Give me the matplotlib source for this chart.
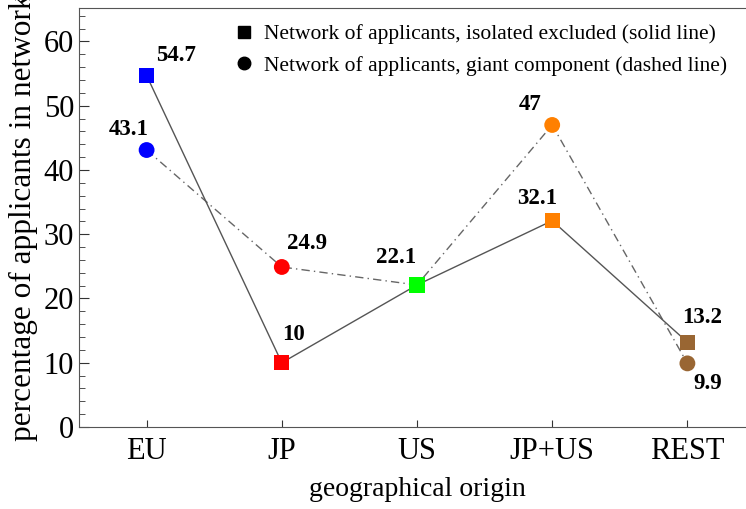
import matplotlib.pyplot as plt
from matplotlib.lines import Line2D

origins = ['EU', 'JP', 'US', 'JP+US', 'REST']
isolated_excl = [54.7, 10, 22.1, 32.1, 13.2]
giant_comp = [43.1, 24.9, 22.1, 47, 9.9]
colors = ['#0000ff', '#ff0000', '#00ff00', '#ff8000', '#996633']

# label offsets in pixels (dx, dy)
off_sq = [(29, 20), (12, 28), (-21, 27), (-15, 22), (15, 25)]
off_ci = [(-18, 21), (25, 23), None, (-22, 20), (20, -20)]

plt.rcParams['font.family'] = ['Liberation Serif', 'DejaVu Serif']

fig = plt.figure(figsize=(7.46, 5.09), dpi=100)
ax = fig.add_axes([79/746, 82/509, 676/746, 419/509])

x = list(range(1, len(origins) + 1))
ax.plot(x, giant_comp, color='#666666', lw=1, ls=(0, (6, 3, 1, 3)), zorder=1)
ax.plot(x, isolated_excl, color='#555555', lw=1, ls='-', zorder=1)
ax.scatter(x, giant_comp, c=colors, marker='o', s=130, zorder=2, linewidths=0)
ax.scatter(x, isolated_excl, c=colors, marker='s', s=120, zorder=3, linewidths=0)

for i in range(len(x)):
    ax.annotate(f'{isolated_excl[i]:g}', (x[i], isolated_excl[i]), xytext=off_sq[i],
                textcoords='offset pixels', ha='center', va='center',
                fontsize=16.5, fontweight='bold')
    if off_ci[i] is not None:
        ax.annotate(f'{giant_comp[i]:g}', (x[i], giant_comp[i]), xytext=off_ci[i],
                    textcoords='offset pixels', ha='center', va='center',
                    fontsize=16.5, fontweight='bold')

ax.set_xlim(0.5, 5.5)
ax.set_ylim(0, 65.2)
ax.set_xticks(x)
ax.set_xticklabels(origins)
ax.set_yticks(range(0, 61, 10))
ax.set_yticks(range(0, 65, 2), minor=True)
ax.tick_params(axis='both', which='both', direction='in', labelsize=22, color='#333333')
ax.tick_params(axis='y', which='major', length=7)
ax.tick_params(axis='y', which='minor', length=4)
ax.tick_params(axis='x', which='major', length=5, pad=7)
ax.tick_params(axis='x', which='minor', bottom=False)
for s in ax.spines.values():
    s.set_color('#555555')
ax.spines['right'].set_visible(False)

ax.set_xlabel('geographical origin', fontsize=20, labelpad=8)
ax.set_ylabel('percentage of applicants in network', fontsize=22.5)
ax.yaxis.set_label_coords(-0.061, 0.5)

handles = [
    Line2D([], [], marker='s', color='black', ls='none', markersize=9),
    Line2D([], [], marker='o', color='black', ls='none', markersize=9),
]
labels = ['Network of applicants, isolated excluded (solid line)',
          'Network of applicants, giant component (dashed line)']
fig.legend(handles, labels, loc='upper left', bbox_to_anchor=(233/746, 1 - 24/509),
           frameon=False, fontsize=15.5, handlelength=1, handletextpad=0.45,
           labelspacing=0.55, borderaxespad=0, borderpad=0)

fig.savefig('out.png', dpi=100)
